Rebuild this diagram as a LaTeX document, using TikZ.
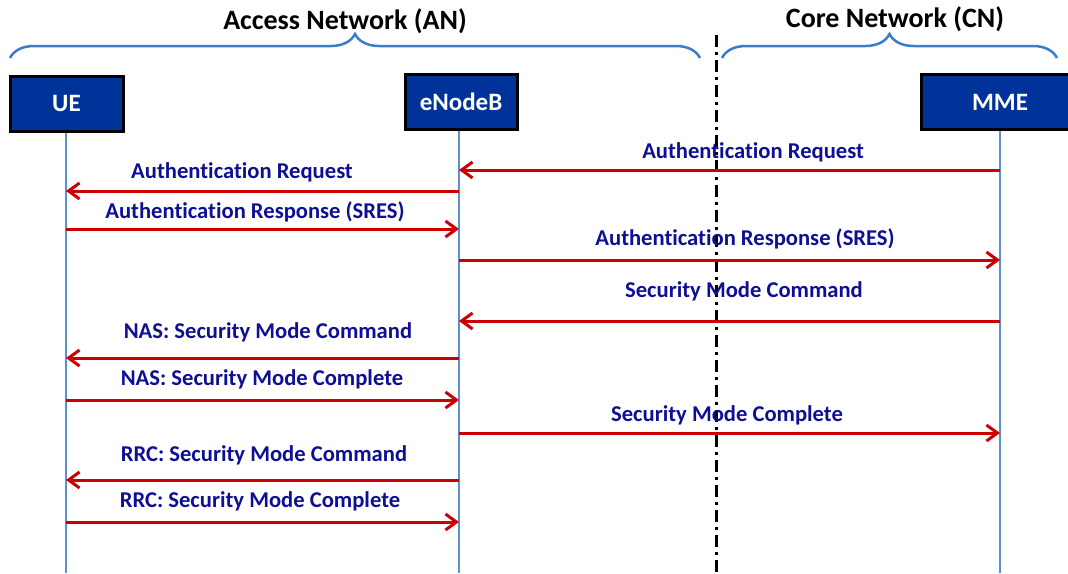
\documentclass[tikz,border=0pt]{standalone}
\usepackage{fontspec}
\setmainfont[Ligatures=NoCommon]{Carlito}
\usetikzlibrary{arrows.meta,decorations.pathreplacing}
\definecolor{boxblue}{RGB}{0,51,153}
\definecolor{lifeblue}{RGB}{91,143,208}
\definecolor{bracecol}{RGB}{58,124,200}
\definecolor{msgred}{RGB}{204,0,0}
\definecolor{lblblue}{RGB}{15,15,150}
\tikzset{
  entity/.style={draw=black, line width=3pt, fill=boxblue, text=white,
    font=\fontsize{25}{28}\selectfont\bfseries, minimum height=55pt, inner sep=0pt},
  lifeline/.style={draw=lifeblue, line width=2.6pt},
  msg/.style={draw=msgred, line width=3pt, -{Straight Barb[length=11pt,width=16pt,line width=3pt]}},
  lbl/.style={text=lblblue, font=\fontsize{22.6}{26}\selectfont\bfseries, anchor=base, inner sep=0pt},
  title/.style={text=black, font=\fontsize{28}{32}\selectfont\bfseries, anchor=base, inner sep=0pt},
  netbrace/.style={draw=bracecol, line width=2.5pt, decorate,
    decoration={brace, amplitude=24pt}},
  divider/.style={draw=black, line width=3pt, dash pattern=on 12pt off 5pt on 3pt off 5pt}
}
\begin{document}
\begin{tikzpicture}[x=1pt, y=-1pt]
\useasboundingbox (0,0) rectangle (1068,573);

% network regions
\node[title] (an) at (345,29) {Access Network (AN)};
\node[title] (cn) at (895,27) {Core Network (CN)};
\coordinate (anL) at (10,58);
\coordinate (anR) at (700,58);
\coordinate (cnL) at (722,58);
\coordinate (cnR) at (1057,58);
\draw[netbrace] (anL) -- (anR);
\draw[netbrace] (cnL) -- (cnR);

% AN / CN boundary
\coordinate (divT) at (716,35);
\coordinate (divB) at (716,573);
\draw[divider] (divT) -- (divB);

% entities
\node[entity, minimum width=113pt] (ue)  at (66.5,103.5) {UE};
\node[entity, minimum width=112pt] (enb) at (461,101.5) {eNodeB};
\node[entity, minimum width=158pt] (mme) at (1000,102) {MME};

% lifelines
\coordinate (ueE)  at (66,573);
\coordinate (enbE) at (459,573);
\coordinate (mmeE) at (1000,573);
\draw[lifeline] (ue.south -| ueE) -- (ueE);
\draw[lifeline] (enb.south -| enbE) -- (enbE);
\draw[lifeline] (mme.south -| mmeE) -- (mmeE);

% messages
\draw[msg] (mmeE |- 0,170) -- (enbE |- 0,170);
\node[lbl] (m1) at (753,158) {Authentication Request};
\draw[msg] (enbE |- 0,191) -- (ueE |- 0,191);
\node[lbl] (m2) at (242,178) {Authentication Request};
\draw[msg] (ueE |- 0,229) -- (enbE |- 0,229);
\node[lbl] (m3) at (255,218) {Authentication Response (SRES)};
\draw[msg] (enbE |- 0,260) -- (mmeE |- 0,260);
\node[lbl] (m4) at (745,245) {Authentication Response (SRES)};
\draw[msg] (mmeE |- 0,321) -- (enbE |- 0,321);
\node[lbl] (m5) at (744,297) {Security Mode Command};
\draw[msg] (enbE |- 0,358) -- (ueE |- 0,358);
\node[lbl] (m6) at (268,338) {NAS: Security Mode Command};
\draw[msg] (ueE |- 0,400) -- (enbE |- 0,400);
\node[lbl] (m7) at (262,385) {NAS: Security Mode Complete};
\draw[msg] (enbE |- 0,433) -- (mmeE |- 0,433);
\node[lbl] (m8) at (727,421) {Security Mode Complete};
\draw[msg] (enbE |- 0,480) -- (ueE |- 0,480);
\node[lbl] (m9) at (264,461) {RRC: Security Mode Command};
\draw[msg] (ueE |- 0,522) -- (enbE |- 0,522);
\node[lbl] (m10) at (260,507) {RRC: Security Mode Complete};
\end{tikzpicture}
\end{document}
